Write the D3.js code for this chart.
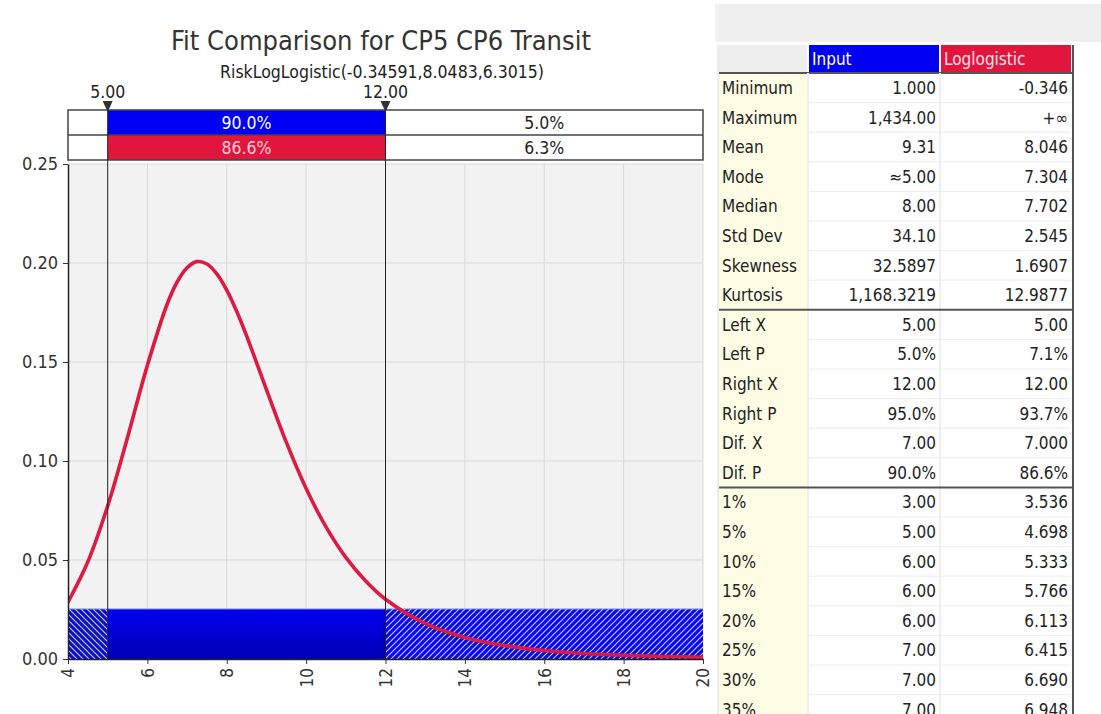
<!DOCTYPE html>
<html>
<head>
<meta charset="utf-8">
<script src="https://cdn.jsdelivr.net/npm/d3@7/dist/d3.min.js"></script>
<style>
  body { margin: 0; background: #fff; }
  svg text { font-family: "DejaVu Sans Condensed", "DejaVu Sans", sans-serif; }
</style>
</head>
<body>
<div class="main"></div>
<script>
// ---- data ----
var title = "Fit Comparison for CP5 CP6 Transit";
var subtitle = "RiskLogLogistic(-0.34591,8.0483,6.3015)";
var xTicks = [4, 6, 8, 10, 12, 14, 16, 18, 20];
var yTicks = [0.00, 0.05, 0.10, 0.15, 0.20, 0.25];
var markers = [5, 12];
var inputBand = [5.0, 90.0, 5.0];
var fitBand = [7.1, 86.6, 6.3];

// input histogram (one wide bin across the view)
var histX0 = [4];
var histX1 = [20];
var histY = [0.0253];

// fitted density
var curveX = [4, 4.5, 5, 5.5, 6, 6.5, 6.75, 7, 7.25, 7.5, 7.75, 8, 8.25, 8.5, 9, 9.5, 10, 10.5, 11, 11.5, 12, 13, 14, 15, 16, 17, 18, 19, 20];
var curveY = [0.0287, 0.0491, 0.0773, 0.1119, 0.1483, 0.1793, 0.1904, 0.1976, 0.2007, 0.1995, 0.1945, 0.1863, 0.1756, 0.1632, 0.1361, 0.1095, 0.0861, 0.0667, 0.0513, 0.0394, 0.0302, 0.0180, 0.0109, 0.0068, 0.0043, 0.0028, 0.0019, 0.0013, 0.0009];

// stats table
var statLabels = ["Minimum", "Maximum", "Mean", "Mode", "Median", "Std Dev", "Skewness", "Kurtosis",
                  "Left X", "Left P", "Right X", "Right P", "Dif. X", "Dif. P",
                  "1%", "5%", "10%", "15%", "20%", "25%", "30%", "35%"];
var inputVals = ["1.000", "1,434.00", "9.31", "\u22485.00", "8.00", "34.10", "32.5897", "1,168.3219",
                 "5.00", "5.0%", "12.00", "95.0%", "7.00", "90.0%",
                 "3.00", "5.00", "6.00", "6.00", "6.00", "7.00", "7.00", "7.00"];
var fitVals = ["-0.346", "+\u221e", "8.046", "7.304", "7.702", "2.545", "1.6907", "12.9877",
               "5.00", "7.1%", "12.00", "93.7%", "7.000", "86.6%",
               "3.536", "4.698", "5.333", "5.766", "6.113", "6.415", "6.690", "6.948"];
var groupBreaks = [8, 14];

var W = 1101, H = 714;
var blue = "#0000f2", red = "#e2163d";

var svg = d3.select("div.main").append("svg")
  .attr("width", W).attr("height", H);

var defs = svg.append("defs");

// hatch patterns for the tails
function hatch(id, dir) {
  var p = defs.append("pattern").attr("id", id)
    .attr("patternUnits", "userSpaceOnUse")
    .attr("width", 6).attr("height", 6);
  p.append("rect").attr("width", 6).attr("height", 6).attr("fill", "#0a0ad8");
  var d = dir > 0 ? "M0,6 L6,0 M-1,1 L1,-1 M5,7 L7,5" : "M0,0 L6,6 M-1,5 L1,7 M5,-1 L7,1";
  p.append("path").attr("d", d).attr("stroke", "#c4ccff").attr("stroke-width", 1.1);
}
hatch("hatchL", -1);
hatch("hatchR", 1);

var grad = defs.append("linearGradient").attr("id", "blueGrad")
  .attr("x1", 0).attr("y1", 0).attr("x2", 0).attr("y2", 1);
grad.append("stop").attr("offset", "0%").attr("stop-color", "#0000f2");
grad.append("stop").attr("offset", "100%").attr("stop-color", "#0000b4");

// ---- chart ----
var plot = { left: 68, right: 703, top: 164, bottom: 659 };

var x = d3.scaleLinear().domain([4, 20]).range([plot.left, plot.right]);
var y = d3.scaleLinear().domain([0, 0.25]).range([plot.bottom, plot.top]);

defs.append("clipPath").attr("id", "plotClip")
  .append("rect")
  .attr("x", plot.left).attr("y", plot.top)
  .attr("width", plot.right - plot.left).attr("height", plot.bottom - plot.top);

svg.append("rect")
  .attr("x", plot.left).attr("y", plot.top)
  .attr("width", plot.right - plot.left).attr("height", plot.bottom - plot.top)
  .attr("fill", "#f2f2f2");

// grid
svg.append("g").selectAll("line").data(xTicks.slice(1)).enter().append("line")
  .attr("x1", function(d) { return x(d); }).attr("x2", function(d) { return x(d); })
  .attr("y1", plot.top).attr("y2", plot.bottom)
  .attr("stroke", "#d9d9d9").attr("stroke-width", 1);
svg.append("g").selectAll("line").data(yTicks.slice(1)).enter().append("line")
  .attr("x1", plot.left).attr("x2", plot.right)
  .attr("y1", function(d) { return y(d); }).attr("y2", function(d) { return y(d); })
  .attr("stroke", "#d9d9d9").attr("stroke-width", 1);

// histogram split at the markers: tail / middle / tail
var segs = [];
histX0.forEach(function(x0, i) {
  var x1 = histX1[i], h = histY[i];
  var cuts = [x0, Math.max(x0, markers[0]), Math.min(x1, markers[1]), x1];
  var fills = ["url(#hatchL)", "url(#blueGrad)", "url(#hatchR)"];
  for (var k = 0; k < 3; k++) {
    if (cuts[k + 1] > cuts[k]) segs.push({ a: cuts[k], b: cuts[k + 1], h: h, fill: fills[k] });
  }
});
svg.append("g").selectAll("rect").data(segs).enter().append("rect")
  .attr("x", function(d) { return x(d.a); })
  .attr("y", function(d) { return y(d.h); })
  .attr("width", function(d) { return x(d.b) - x(d.a); })
  .attr("height", function(d) { return y(0) - y(d.h); })
  .attr("fill", function(d) { return d.fill; });
svg.append("line")
  .attr("x1", x(histX0[0])).attr("x2", x(histX1[0]))
  .attr("y1", y(histY[0])).attr("y2", y(histY[0]))
  .attr("stroke", "#9aa6ff").attr("stroke-width", 1);

// fitted curve
var line = d3.line()
  .x(function(d, i) { return x(curveX[i]); })
  .y(function(d) { return y(d); })
  .curve(d3.curveCatmullRom.alpha(0.5));
svg.append("path")
  .datum(curveY)
  .attr("clip-path", "url(#plotClip)")
  .attr("d", line)
  .attr("fill", "none")
  .attr("stroke", "#dc1a44")
  .attr("stroke-width", 3.6)
  .attr("stroke-linecap", "round");

// axes
var yAxis = svg.append("g")
  .attr("transform", "translate(" + plot.left + ",0)")
  .call(d3.axisLeft(y).tickValues(yTicks).tickFormat(d3.format(".2f")).tickSize(5).tickSizeOuter(0));
yAxis.select(".domain").attr("stroke", "#222").attr("stroke-width", 1.5);
yAxis.selectAll(".tick line").attr("stroke", "#333");
yAxis.selectAll("text").attr("font-size", 18).attr("fill", "#333").attr("x", -10);

var xAxis = svg.append("g")
  .attr("transform", "translate(0," + plot.bottom + ")")
  .call(d3.axisBottom(x).tickValues(xTicks).tickSize(5).tickSizeOuter(0));
xAxis.select(".domain").attr("stroke", "#222").attr("stroke-width", 1.5);
xAxis.selectAll(".tick line").attr("stroke", "#333");
xAxis.selectAll("text")
  .attr("font-size", 17).attr("fill", "#333")
  .attr("transform", "rotate(-90)")
  .attr("x", -9).attr("y", 0).attr("dy", "0.35em")
  .style("text-anchor", "end");

// probability band box
var box = { top: 110, mid: 135, bottom: 160 };
var bandCuts = [4, markers[0], markers[1], 20];
var bandRows = [
  { y0: box.top, vals: inputBand, fill: blue, txt: "#ffffff" },
  { y0: box.mid, vals: fitBand, fill: red, txt: "#ffd0da" }
];
bandRows.forEach(function(r) {
  var g = svg.append("g");
  g.append("rect")
    .attr("x", plot.left).attr("y", r.y0)
    .attr("width", plot.right - plot.left).attr("height", 25)
    .attr("fill", "#fff");
  g.append("rect")
    .attr("x", x(bandCuts[1])).attr("y", r.y0)
    .attr("width", x(bandCuts[2]) - x(bandCuts[1])).attr("height", 25)
    .attr("fill", r.fill);
  r.vals.forEach(function(v, k) {
    var a = x(bandCuts[k]), b = x(bandCuts[k + 1]);
    if (b - a < 60) return;
    g.append("text")
      .attr("x", (a + b) / 2).attr("y", r.y0 + 13).attr("dy", "0.35em")
      .attr("text-anchor", "middle")
      .attr("font-size", 17.5)
      .attr("fill", k == 1 ? r.txt : "#222")
      .text(v.toFixed(1) + "%");
  });
});
svg.append("rect")
  .attr("x", plot.left).attr("y", box.top)
  .attr("width", plot.right - plot.left).attr("height", box.bottom - box.top)
  .attr("fill", "none").attr("stroke", "#444").attr("stroke-width", 1.5);
svg.append("line")
  .attr("x1", plot.left).attr("x2", plot.right)
  .attr("y1", box.mid).attr("y2", box.mid)
  .attr("stroke", "#444").attr("stroke-width", 1.5);

// marker lines, triangles, labels
var mk = svg.append("g").selectAll("g").data(markers).enter().append("g");
mk.append("line")
  .attr("x1", function(d) { return x(d); }).attr("x2", function(d) { return x(d); })
  .attr("y1", box.top).attr("y2", plot.bottom)
  .attr("stroke", "#222").attr("stroke-width", 1);
mk.append("path")
  .attr("d", function(d) { var c = x(d); return "M" + (c - 5) + ",101 L" + (c + 5) + ",101 L" + c + ",112 Z"; })
  .attr("fill", "#333");
mk.append("text")
  .attr("x", function(d) { return x(d); }).attr("y", 98)
  .attr("text-anchor", "middle")
  .attr("font-size", 17.5).attr("fill", "#222")
  .text(function(d) { return d.toFixed(2); });

// titles
svg.append("text")
  .attr("x", 381).attr("y", 50)
  .attr("text-anchor", "middle")
  .attr("font-size", 27).attr("fill", "#333")
  .text(title);
svg.append("text")
  .attr("x", 382).attr("y", 78)
  .attr("text-anchor", "middle")
  .attr("font-size", 17.5).attr("fill", "#222")
  .text(subtitle);

// ---- stats table ----
var tb = { left: 719, c1: 808, c2: 940, right: 1073, headTop: 45, headH: 28, rowH: 29.6 };
var bodyTop = tb.headTop + tb.headH;
var t = svg.append("g");

t.append("rect").attr("x", 715).attr("y", 4).attr("width", W - 715).attr("height", 38).attr("fill", "#f0f0f0");
t.append("rect").attr("x", tb.left).attr("y", bodyTop).attr("width", tb.c1 - tb.left).attr("height", H - bodyTop).attr("fill", "#fefce4");

// header
t.append("rect").attr("x", tb.left).attr("y", tb.headTop).attr("width", tb.c1 - tb.left - 1).attr("height", tb.headH).attr("fill", "#eeeeee");
t.append("rect").attr("x", tb.c1 + 1).attr("y", tb.headTop).attr("width", tb.c2 - tb.c1 - 2).attr("height", tb.headH).attr("fill", blue);
t.append("rect").attr("x", tb.c2 + 1).attr("y", tb.headTop).attr("width", tb.right - tb.c2 - 3).attr("height", tb.headH).attr("fill", red);
t.append("text").attr("x", tb.c1 + 4).attr("y", tb.headTop + 20).attr("font-size", 17).attr("fill", "#fff").text("Input");
t.append("text").attr("x", tb.c2 + 4).attr("y", tb.headTop + 20).attr("font-size", 17).attr("fill", "#ffe0e8").text("Loglogistic");
t.append("line").attr("x1", tb.left).attr("x2", tb.right).attr("y1", bodyTop).attr("y2", bodyTop)
  .attr("stroke", "#555").attr("stroke-width", 2);

// row rules
t.append("g").selectAll("line").data(d3.range(1, statLabels.length)).enter().append("line")
  .attr("x1", tb.c1).attr("x2", tb.right - 2)
  .attr("y1", function(i) { return bodyTop + i * tb.rowH; })
  .attr("y2", function(i) { return bodyTop + i * tb.rowH; })
  .attr("stroke", "#ececec").attr("stroke-width", 1);
[tb.c1, tb.c2].forEach(function(cx) {
  t.append("line").attr("x1", cx).attr("x2", cx).attr("y1", bodyTop).attr("y2", H)
    .attr("stroke", "#efefef").attr("stroke-width", 2);
});
t.append("g").selectAll("line").data(groupBreaks).enter().append("line")
  .attr("x1", tb.left).attr("x2", tb.right)
  .attr("y1", function(i) { return bodyTop + i * tb.rowH; })
  .attr("y2", function(i) { return bodyTop + i * tb.rowH; })
  .attr("stroke", "#555").attr("stroke-width", 2);

// borders
t.append("line").attr("x1", tb.right).attr("x2", tb.right).attr("y1", tb.headTop).attr("y2", H)
  .attr("stroke", "#555").attr("stroke-width", 2);
t.append("line").attr("x1", tb.left - 1).attr("x2", tb.left - 1).attr("y1", tb.headTop).attr("y2", H)
  .attr("stroke", "#d8d8d8").attr("stroke-width", 1);

var rows = t.append("g").selectAll("g").data(statLabels).enter().append("g")
  .attr("transform", function(d, i) { return "translate(0," + (bodyTop + (i + 0.5) * tb.rowH) + ")"; });
rows.append("text").attr("x", tb.left + 3).attr("dy", "0.36em")
  .attr("font-size", 17).attr("fill", "#222").text(function(d) { return d; });
rows.append("text").attr("x", tb.c2 - 4).attr("dy", "0.36em").attr("text-anchor", "end")
  .attr("font-size", 17).attr("fill", "#222").text(function(d, i) { return inputVals[i]; });
rows.append("text").attr("x", tb.right - 5).attr("dy", "0.36em").attr("text-anchor", "end")
  .attr("font-size", 17).attr("fill", "#222").text(function(d, i) { return fitVals[i]; });
</script>
</body>
</html>
